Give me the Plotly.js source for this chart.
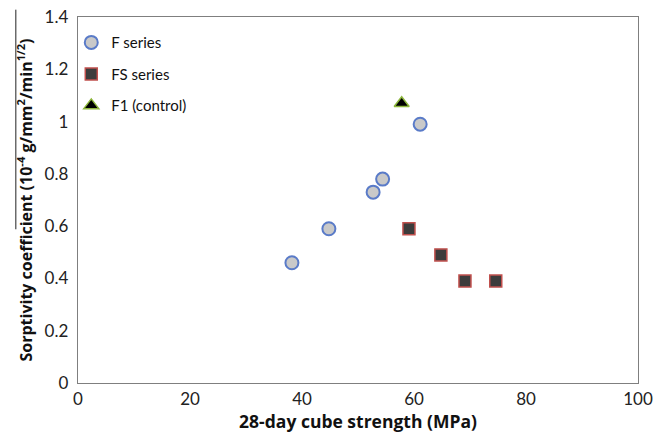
<!DOCTYPE html>
<html>
<head>
<meta charset="utf-8">
<script src="https://cdn.plot.ly/plotly-3.0.1.min.js"></script>
<style>html,body{margin:0;padding:0;background:#fff;}#chart{width:670px;height:435px;}</style>
</head>
<body>
<div id="chart"></div>
<script>
// Data
const fStrength = [38.2, 44.8, 52.7, 54.4, 61.1];
const fSorptivity = [0.46, 0.59, 0.73, 0.78, 0.99];
const fsStrength = [59.1, 64.8, 69.1, 74.6];
const fsSorptivity = [0.59, 0.49, 0.39, 0.39];
const controlStrength = [57.8];
const controlSorptivity = [1.07];
const seriesNames = ["F series", "FS series", "F1 (control)"];
const xTicks = [0, 20, 40, 60, 80, 100];
const yTicks = [0, 0.2, 0.4, 0.6, 0.8, 1, 1.2, 1.4];

const FONT = "Lato, 'Open Sans', sans-serif";
const TFONT = "'Open Sans', Lato, sans-serif";

const traces = [
  {
    x: fStrength, y: fSorptivity, name: seriesNames[0], type: "scatter", mode: "markers",
    legendgroup: "a",
    marker: {symbol: "circle", size: 13, color: "#c9c9c9", line: {color: "#5a7bc8", width: 2}}
  },
  {
    x: fsStrength, y: fsSorptivity, name: seriesNames[1], type: "scatter", mode: "markers",
    legendgroup: "b",
    marker: {symbol: "square", size: 12, color: "#3c3c3c", line: {color: "#c0504d", width: 1.5}}
  },
  {
    x: controlStrength, y: controlSorptivity, name: seriesNames[2], type: "scatter", mode: "markers",
    legendgroup: "c",
    marker: {symbol: "triangle-up", size: 13, color: "#000000", line: {color: "#8db63c", width: 1.5}}
  }
];

const layout = {
  width: 670, height: 435,
  margin: {l: 78, r: 32, t: 17, b: 52},
  paper_bgcolor: "#ffffff", plot_bgcolor: "#ffffff",
  font: {family: FONT, size: 14, color: "#222"},
  showlegend: true,
  legend: {
    x: -0.012, y: 0.975, xanchor: "left", yanchor: "top",
    bgcolor: "rgba(0,0,0,0)", font: {family: FONT, size: 15, color: "#111"},
    tracegroupgap: 9, itemwidth: 30
  },
  xaxis: {
    range: [0, 100], tickvals: xTicks, ticktext: xTicks.map(String),
    showgrid: false, zeroline: false, showline: true, mirror: true,
    linecolor: "#7f7f7f", linewidth: 1.3, ticks: "",
    tickfont: {family: FONT, size: 17, color: "#222"},
    title: {text: "<b>28-day cube strength (MPa)</b>", font: {family: TFONT, size: 17.5, color: "#111"}, standoff: 3}
  },
  yaxis: {
    range: [0, 1.4], tickvals: yTicks, ticktext: yTicks.map(String),
    showgrid: false, zeroline: false, showline: true, mirror: true,
    linecolor: "#7f7f7f", linewidth: 1.3, ticks: "",
    tickfont: {family: FONT, size: 17, color: "#222"}, ticklabelstandoff: 5,
    title: {text: "<b>Sorptivity coefficient (10<sup>-4</sup> g/mm<sup>2</sup>/min<sup>1/2</sup>)</b>", font: {family: TFONT, size: 16, color: "#111"}, standoff: 8}
  },
  shapes: [
    {type: "line", xref: "paper", yref: "paper", x0: -0.111, x1: -0.111, y0: 1.02, y1: 0.42,
     line: {color: "#222", width: 1}}
  ]
};

Plotly.newPlot("chart", traces, layout, {displayModeBar: false, staticPlot: true});
</script>
</body>
</html>
